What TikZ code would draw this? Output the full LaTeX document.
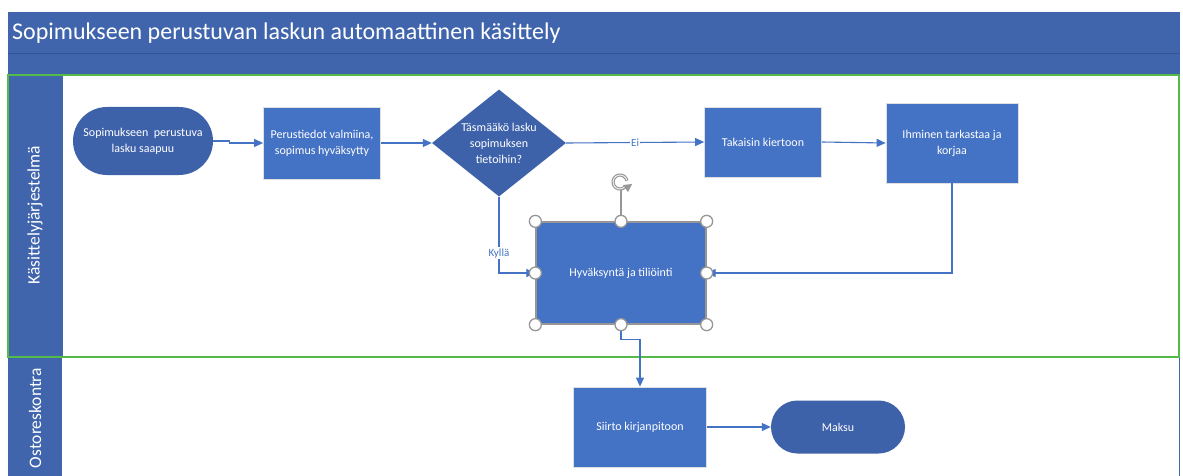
\documentclass[tikz,border=0pt]{standalone}
\usepackage{fontspec}
\setmainfont{Carlito}
\usetikzlibrary{shapes.geometric,arrows.meta,calc}
\definecolor{termblue}{RGB}{62,98,170}
\definecolor{rectblue}{RGB}{68,114,196}
\definecolor{headblue}{RGB}{64,101,173}
\definecolor{headline}{RGB}{52,84,148}
\definecolor{lanegreen}{RGB}{84,186,72}
\definecolor{handlegray}{RGB}{150,150,150}
\tikzset{
  terminal/.style={fill=termblue, draw=none, text=white, align=center,
    font=\fontsize{12}{16}\selectfont, inner sep=0pt},
  process/.style={fill=rectblue, draw=white!75!gray, line width=0.8pt, text=white,
    align=center, font=\fontsize{12}{16}\selectfont, inner sep=0pt},
  decision/.style={diamond, fill=termblue, draw=none, text=white, align=center,
    font=\fontsize{12}{16}\selectfont, inner sep=0pt, aspect=1.25},
  conn/.style={draw=rectblue, line width=1.1pt, -{Triangle[length=9pt,width=8pt]}},
  edgelabel/.style={fill=white, text=rectblue, font=\fontsize{11}{13}\selectfont, inner sep=1pt},
  handle/.style={draw=handlegray, fill=white, line width=1.3pt},
  lanelabel/.style={text=white, rotate=90, font=\fontsize{17.5}{20}\selectfont}
}
\begin{document}
\begin{tikzpicture}[x=1pt,y=-1pt]
\useasboundingbox[fill=white] (0,0) rectangle (1183,476);
% title bar
\fill[headblue] (8,12) rectangle (1180,74);
\draw[headline, line width=0.8pt] (8,53) -- (1180,53);
\node[anchor=west, text=white, font=\fontsize{24}{28}\selectfont, inner sep=0pt] (title) at (12,33) {Sopimukseen perustuvan laskun automaattinen käsittely};
% lanes
\fill[headblue] (8,75) rectangle (62,476);
\draw[headblue, line width=1pt] (62,75) rectangle (1179,357);
\draw[headblue, line width=1pt] (1179,357) -- (1179,476);
\draw[lanegreen, line width=1.5pt] (8,75) rectangle (1179,357);
\node[lanelabel] (lane1) at (35,215) {Käsittelyjärjestelmä};
\node[lanelabel] (lane2) at (35,418) {Ostoreskontra};
% nodes
\node[terminal, minimum width=140pt, minimum height=68pt, rounded corners=34pt] (start) at (143,141) {Sopimukseen\ \ perustuva\\lasku saapuu};
\node[process, minimum width=117pt, minimum height=72pt] (perus) at (322,143) {Perustiedot valmiina,\\sopimus hyväksytty};
\node[decision, minimum width=134pt, minimum height=107pt] (dia) at (499,143) {Täsmääkö lasku\\sopimuksen\\tietoihin?};
\node[process, minimum width=117pt, minimum height=70pt] (tak) at (763,142) {Takaisin kiertoon};
\node[process, minimum width=132pt, minimum height=80pt] (ihm) at (952,143) {Ihminen tarkastaa ja\\korjaa};
\node[process, draw=handlegray, line width=1.3pt, minimum width=170pt, minimum height=102pt] (hyv) at (621,273) {Hyväksyntä ja tiliöinti};
\node[process, minimum width=133pt, minimum height=80pt] (siirto) at (640,427) {Siirto kirjanpitoon};
\node[terminal, minimum width=134pt, minimum height=53pt, rounded corners=26.5pt] (maksu) at (838,427) {Maksu};
% connectors
\draw[conn] (start.east) -- ++(16,0) |- (perus.west);
\draw[conn] (perus.east) -- (dia.west);
\draw[conn] (dia.east) -- node[edgelabel, pos=0.5] (ei) {Ei} (tak.west);
\draw[conn] (tak.east) -- (ihm.west);
\draw[conn] (ihm.south) |- (hyv.east);
\draw[conn] (dia.south) |- node[edgelabel, pos=0.37] (kylla) {Kyllä} (hyv.west);
\draw[conn] (hyv.south) -- ++(0,15) -| (siirto.north);
\draw[conn] (siirto.east) -- (maksu.west);
% selection handles
\coordinate (rot) at (620,182);
\draw[handlegray, line width=1.3pt] (hyv.north) -- ++(0,-32);
\foreach \a in {north west,north,north east,east,south east,south,south west,west}
  \draw[handle] (hyv.\a) circle (6pt);
\draw[handlegray, line width=3.2pt] (rot) ++(10:7pt) arc[start angle=10, end angle=320, radius=7pt];
\draw[white, line width=0.8pt] (rot) ++(14:7pt) arc[start angle=14, end angle=316, radius=7pt];
\fill[handlegray] ($(rot)+(3,3)$) -- ($(rot)+(12,2)$) -- ($(rot)+(8,10)$) -- cycle;
\end{tikzpicture}
\end{document}
